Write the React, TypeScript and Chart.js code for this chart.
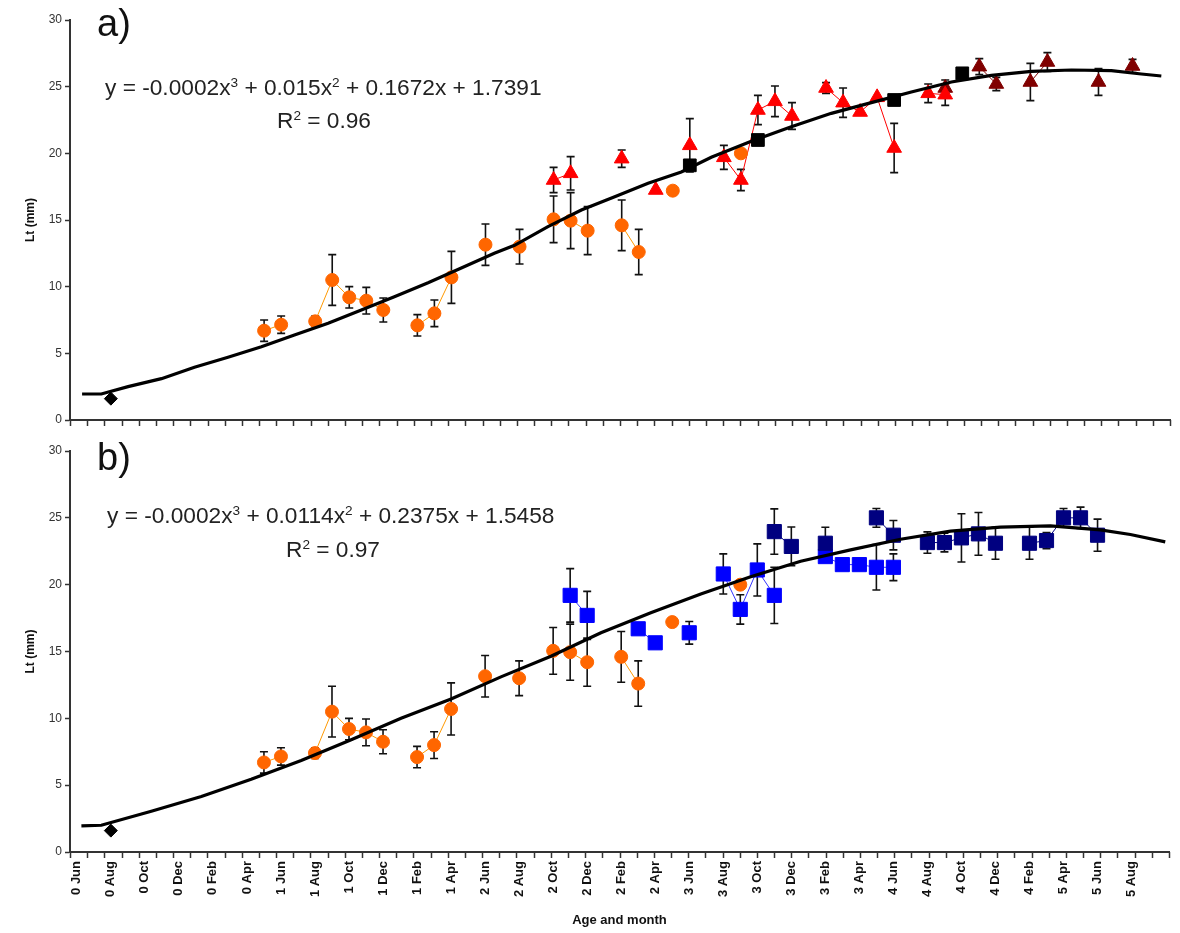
import React, { useEffect, useRef } from 'react';
import { Chart, registerables } from 'chart.js';
Chart.register(...registerables);

// ---------- data ----------
const monthLabels = ['0 Jun','0 Aug','0 Oct','0 Dec','0 Feb','0 Apr','1 Jun','1 Aug','1 Oct','1 Dec','1 Feb','1 Apr','2 Jun','2 Aug','2 Oct','2 Dec','2 Feb','2 Apr','3 Jun','3 Aug','3 Oct','3 Dec','3 Feb','3 Apr','4 Jun','4 Aug','4 Oct','4 Dec','4 Feb','5 Apr','5 Jun','5 Aug'];
const labelMonths = [0,2,4,6,8,10,12,14,16,18,20,22,24,26,28,30,32,34,36,38,40,42,44,46,48,50,52,54,56,58,60,62];
const X_MIN = -0.4;
const X_MAX = 64.2;
const X_TICK_COUNT = 64;
const Y_MIN = 0;
const Y_MAX = 30;
const Y_STEP = 5;

const diamondMonth = [2];
const diamondLt = [1.6];

const orangeMonth = [11, 12, null, 14, 15, 16, 17, 18, null, 20, 21, 22, null, 24, null, 26, null, 28, 29, 30, null, 32, 33, null, 35, null, 39];
const orangeLt =    [6.7, 7.15, null, 7.4, 10.5, 9.2, 8.95, 8.25, null, 7.1, 8.0, 10.7, null, 13.15, null, 13.0, null, 15.05, 14.95, 14.2, null, 14.6, 12.6, null, 17.2, null, 20.0];
const orangeSd =    [0.8, 0.65, null, 0.4, 1.9, 0.8, 1.0, 0.9, null, 0.8, 1.0, 1.95, null, 1.55, null, 1.3, null, 1.75, 2.1, 1.8, null, 1.9, 1.7, null, 0, null, 0];

// panel a
const redMonth = [28, 29, null, 32, null, 34, null, 36, null, 38, 39, 40, 41, 42, null, 44, 45, 46, 47, 48, null, 50, 51];
const redLt =    [18.0, 18.5, null, 19.6, null, 17.25, null, 20.6, null, 19.7, 18.0, 23.25, 23.9, 22.8, null, 24.9, 23.8, 23.1, 24.2, 20.4, null, 24.5, 24.4];
const redSd =    [0.95, 1.25, null, 0.65, null, 0, null, 2.0, null, 0.9, 0.8, 1.1, 1.15, 1.0, null, 0.4, 1.1, 0, 0, 1.85, null, 0.7, 0.8];

const darkRedMonth = [51, null, 53, 54, null, 56, 57, null, 60, null, 62];
const darkRedLt =    [24.9, null, 26.5, 25.2, null, 25.35, 26.85, null, 25.35, null, 26.55];
const darkRedSd =    [0.6, null, 0.6, 0.5, null, 1.4, 0.7, null, 1.0, null, 0.5];

const blackSqMonth = [36, 40, 48, 52];
const blackSqLt = [19.1, 21.0, 24.0, 26.0];

const curveAMonth = [0.31, 1.44, 3.01, 4.97, 6.91, 8.88, 10.84, 12.78, 14.76, 16.71, 18.65, 20.63, 22.58, 24.52, 25.71, 27.67, 29.63, 31.59, 33.55, 35.5, 37.26, 39.61, 41.96, 44.31, 46.66, 49.01, 51.36, 53.71, 56.06, 58.41, 60.76, 62.52, 63.69];
const curveALt =    [1.95, 1.95, 2.5, 3.1, 3.95, 4.7, 5.5, 6.37, 7.25, 8.25, 9.25, 10.3, 11.4, 12.5, 13.1, 14.5, 15.75, 16.75, 17.75, 18.6, 19.7, 20.9, 22.0, 23.0, 23.8, 24.6, 25.35, 25.85, 26.15, 26.25, 26.2, 25.95, 25.8];

// panel b
const blueMonth = [29, 30, null, 33, 34, null, 36, null, 38, 39, 40, 41, null, 44, 45, 46, 47, 48];
const blueLt =    [19.2, 17.7, null, 16.7, 15.65, null, 16.4, null, 20.8, 18.15, 21.1, 19.2, null, 22.1, 21.5, 21.5, 21.3, 21.3];
const blueSd =    [2.0, 1.8, null, 0, 0, null, 0.85, null, 1.5, 1.1, 1.95, 2.1, null, 0, 0, 0, 1.7, 1.0];

const navyMonth = [41, 42, null, 44, null, 47, 48, null, 50, 51, 52, 53, 54, null, 56, 57, 58, 59, 60];
const navyLt =    [23.97, 22.86, null, 23.1, null, 25.0, 23.7, null, 23.15, 23.15, 23.5, 23.8, 23.1, null, 23.1, 23.3, 25.0, 25.0, 23.7];
const navySd =    [1.7, 1.45, null, 1.2, null, 0.7, 1.1, null, 0.8, 0.7, 1.8, 1.6, 1.2, null, 1.2, 0.6, 0.7, 0.8, 1.2];

const curveBMonth = [0.27, 1.44, 4.38, 7.32, 10.25, 13.19, 16.13, 19.06, 22.0, 24.93, 27.87, 30.81, 33.74, 36.68, 39.61, 42.55, 45.48, 48.42, 51.36, 54.29, 57.23, 60.16, 61.93, 63.98];
const curveBLt =    [1.95, 2.0, 3.05, 4.15, 5.45, 6.85, 8.4, 10.0, 11.45, 13.1, 14.65, 16.4, 17.9, 19.3, 20.6, 21.75, 22.6, 23.4, 24.0, 24.3, 24.4, 24.1, 23.75, 23.2];

// ---------- helpers ----------
function pts(ms: (number | null)[], vs: (number | null)[]) {
  const out: { x: number; y: number | null }[] = [];
  let last = 0;
  ms.forEach((m, i) => {
    if (m === null) out.push({ x: last, y: null });
    else { out.push({ x: m, y: vs[i] }); last = m; }
  });
  return out;
}

const FONT = "'Liberation Sans', Arial, sans-serif";

const errorBarPlugin = {
  id: 'errorBars',
  beforeDatasetsDraw(chart: any) {
    const ctx = chart.ctx;
    const ys = chart.scales.y;
    ctx.save();
    ctx.strokeStyle = '#111';
    ctx.lineWidth = 1.6;
    chart.data.datasets.forEach((ds: any, di: number) => {
      if (!ds.sd) return;
      const meta = chart.getDatasetMeta(di);
      meta.data.forEach((el: any, i: number) => {
        const e = ds.sd[i];
        const p = ds.data[i];
        if (!e || p == null || p.y == null || el.skip) return;
        const top = ys.getPixelForValue(p.y + e);
        const bot = ys.getPixelForValue(p.y - e);
        ctx.beginPath();
        ctx.moveTo(el.x, top); ctx.lineTo(el.x, bot);
        ctx.moveTo(el.x - 4, top); ctx.lineTo(el.x + 4, top);
        ctx.moveTo(el.x - 4, bot); ctx.lineTo(el.x + 4, bot);
        ctx.stroke();
      });
    });
    ctx.restore();
  },
};

const xTickPlugin = {
  id: 'xTickMarks',
  afterDraw(chart: any) {
    const ctx = chart.ctx;
    const xs = chart.scales.x;
    const b = chart.chartArea.bottom;
    ctx.save();
    ctx.strokeStyle = '#333';
    ctx.lineWidth = 1.5;
    for (let k = 0; k <= X_TICK_COUNT; k++) {
      const v = X_MIN + (k * (X_MAX - X_MIN)) / X_TICK_COUNT;
      const px = Math.round(xs.getPixelForValue(v)) + 0.5;
      ctx.beginPath();
      ctx.moveTo(px, b);
      ctx.lineTo(px, b + 6);
      ctx.stroke();
    }
    ctx.restore();
  },
};

function seriesDs(label: string, data: any, sd: any, style: string, radius: number, fill: string, line: string, order: number) {
  return {
    label, data, sd,
    showLine: true,
    borderColor: line,
    borderWidth: 1,
    pointStyle: style,
    pointRadius: radius,
    pointBackgroundColor: fill,
    pointBorderColor: fill,
    pointBorderWidth: 1,
    spanGaps: false,
    order,
  };
}

function curveDs(data: any) {
  return {
    label: 'trend', data,
    showLine: true,
    borderColor: '#000',
    borderWidth: 3.2,
    pointRadius: 0,
    tension: 0,
    order: 0,
  };
}

function makeConfig(panel: 'a' | 'b') {
  const datasets: any[] = [];
  datasets.push(curveDs(pts(panel === 'a' ? curveAMonth : curveBMonth, panel === 'a' ? curveALt : curveBLt)));
  datasets.push(seriesDs('diamond', pts(diamondMonth, diamondLt), null, 'rectRot', 6.5, '#000', '#000', 1));
  datasets.push(seriesDs('orange', pts(orangeMonth, orangeLt), orangeSd, 'circle', 6.5, '#FF6600', '#FF9900', 2));
  if (panel === 'a') {
    datasets.push(seriesDs('red', pts(redMonth, redLt), redSd, 'triangle', 8.5, '#FF0000', '#FF0000', 3));
    datasets.push(seriesDs('darkred', pts(darkRedMonth, darkRedLt), darkRedSd, 'triangle', 8.5, '#800000', '#800000', 4));
    datasets.push(seriesDs('black', pts(blackSqMonth, blackSqLt), null, 'rect', 9, '#000', 'rgba(0,0,0,0)', 1));
  } else {
    datasets.push(seriesDs('blue', pts(blueMonth, blueLt), blueSd, 'rect', 10, '#0000FF', '#3333FF', 4));
    datasets.push(seriesDs('navy', pts(navyMonth, navyLt), navySd, 'rect', 10, '#000080', '#000080', 3));
  }

  const isB = panel === 'b';
  return {
    type: 'scatter',
    data: { datasets },
    plugins: [errorBarPlugin, xTickPlugin],
    options: {
      animation: false,
      responsive: false,
      maintainAspectRatio: false,
      events: [],
      layout: { padding: { left: 0, right: 10, top: isB ? 9 : 20, bottom: 0 } },
      plugins: { legend: { display: false }, tooltip: { enabled: false }, title: { display: false } },
      scales: {
        x: {
          type: 'linear',
          min: X_MIN,
          max: X_MAX,
          afterBuildTicks: (s: any) => { s.ticks = labelMonths.map((m) => ({ value: m })); },
          ticks: {
            display: isB,
            autoSkip: false,
            maxRotation: 90,
            minRotation: 90,
            padding: 9,
            color: '#111',
            font: { family: FONT, size: 13, weight: 'bold' },
            callback: (_v: any, i: number) => monthLabels[i],
          },
          grid: { display: true, drawOnChartArea: false, drawTicks: false },
          border: { display: true, color: '#333', width: 2 },
          title: {
            display: isB,
            text: 'Age and month',
            color: '#111',
            font: { family: FONT, size: 13, weight: 'bold' },
            padding: { top: 0, bottom: 5 },
          },
          afterFit: (s: any) => { s.height = isB ? 81 : 20; },
        },
        y: {
          type: 'linear',
          min: Y_MIN,
          max: Y_MAX,
          ticks: { stepSize: Y_STEP, color: '#333', padding: 3, font: { family: FONT, size: 12 } },
          grid: { drawOnChartArea: false, drawTicks: true, tickLength: 5, color: '#333', tickWidth: 1.5 },
          border: { display: true, color: '#333', width: 2 },
          title: {
            display: true,
            text: 'Lt (mm)',
            color: '#111',
            font: { family: FONT, size: 12, weight: 'bold' },
            padding: { top: 23, bottom: 0 },
          },
          afterFit: (s: any) => { s.width = 70; },
        },
      },
    },
  } as any;
}

function Panel({ panel, top, height }: { panel: 'a' | 'b'; top: number; height: number }) {
  const ref = useRef<HTMLCanvasElement | null>(null);
  useEffect(() => {
    if (!ref.current) return;
    const chart = new Chart(ref.current, makeConfig(panel));
    return () => chart.destroy();
  }, [panel]);
  return (
    <canvas
      ref={ref}
      width={1180}
      height={height}
      style={{ position: 'absolute', left: 0, top, width: 1180, height }}
    />
  );
}

const supStyle: React.CSSProperties = { fontSize: '0.6em', verticalAlign: '0.6em', lineHeight: 0 };

function Eq({ left, top, rLeft, rTop, c2, c1, c0, r2 }: { left: number; top: number; rLeft: number; rTop: number; c2: string; c1: string; c0: string; r2: string }) {
  const base: React.CSSProperties = {
    position: 'absolute', fontFamily: FONT, fontSize: 22.7, lineHeight: '22px', color: '#222', whiteSpace: 'nowrap',
  };
  return (
    <>
      <div style={{ ...base, left, top }}>
        y = -0.0002x<span style={supStyle}>3</span> + {c2}x<span style={supStyle}>2</span> + {c1}x + {c0}
      </div>
      <div style={{ ...base, left: rLeft, top: rTop }}>
        R<span style={supStyle}>2</span> = {r2}
      </div>
    </>
  );
}

export default function App() {
  return (
    <div style={{ position: 'absolute', left: 0, top: 0, width: 1180, height: 933, background: '#fff', overflow: 'hidden' }}>
      <Panel panel="a" top={0} height={440} />
      <Panel panel="b" top={440} height={493} />
      <div style={{ position: 'absolute', left: 97, top: 3, fontFamily: FONT, fontSize: 38, lineHeight: '40px', color: '#111' }}>a)</div>
      <div style={{ position: 'absolute', left: 97, top: 437, fontFamily: FONT, fontSize: 38, lineHeight: '40px', color: '#111' }}>b)</div>
      <Eq left={105} top={76} rLeft={277} rTop={109} c2="0.015" c1="0.1672" c0="1.7391" r2="0.96" />
      <Eq left={107} top={504} rLeft={286} rTop={538} c2="0.0114" c1="0.2375" c0="1.5458" r2="0.97" />
    </div>
  );
}
